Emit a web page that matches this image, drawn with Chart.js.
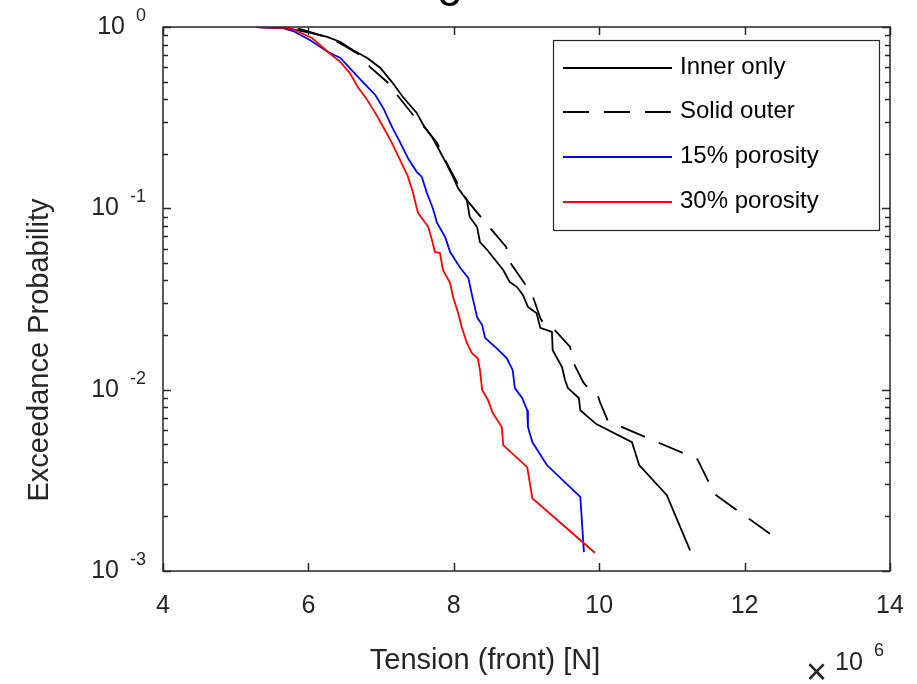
<!DOCTYPE html>
<html>
<head>
<meta charset="utf-8">
<script src="https://cdn.jsdelivr.net/npm/chart.js@4.4.0/dist/chart.umd.min.js"></script>
<style>
  html, body { margin: 0; padding: 0; background: #fff; }
  #wrap { width: 917px; height: 684px; }
</style>
</head>
<body>
<div id="wrap"><canvas id="chart" width="917" height="684"></canvas></div>
<script>
// Exceedance curves - tension in units of 1e6 N
const innerX = [5.29, 5.65, 5.98, 6.26, 6.44, 6.61, 6.81, 6.99, 7.15, 7.30, 7.49, 7.58, 7.71, 7.85, 7.99, 8.06, 8.18, 8.22, 8.32, 8.36, 8.46, 8.57, 8.68, 8.77, 8.87, 8.95, 9.02, 9.14, 9.19, 9.35, 9.36, 9.49, 9.53, 9.57, 9.72, 9.74, 9.96, 10.45, 10.55, 10.93, 11.25];
const innerP = [1.0, 0.995, 0.938, 0.881, 0.827, 0.747, 0.675, 0.594, 0.497, 0.411, 0.336, 0.288, 0.244, 0.192, 0.149, 0.129, 0.111, 0.0895, 0.0788, 0.0652, 0.0589, 0.0519, 0.0457, 0.0392, 0.0368, 0.0333, 0.0286, 0.0264, 0.0219, 0.0208, 0.0165, 0.0133, 0.0113, 0.0102, 0.0090, 0.0077, 0.00646, 0.00514, 0.00384, 0.00262, 0.00130];

const outerX = [5.29, 5.88, 6.30, 6.50, 6.71, 6.85, 7.10, 7.22, 7.44, 7.63, 7.77, 7.88, 8.04, 8.11, 8.18, 8.35, 8.50, 8.72, 8.77, 8.97, 9.09, 9.19, 9.24, 9.39, 9.60, 9.64, 9.78, 9.82, 9.97, 10.01, 10.12, 11.35, 11.59, 12.49];
const outerP = [1.0, 0.975, 0.870, 0.786, 0.701, 0.601, 0.491, 0.422, 0.327, 0.270, 0.229, 0.185, 0.140, 0.123, 0.111, 0.0918, 0.0778, 0.0612, 0.0506, 0.0387, 0.0324, 0.0248, 0.0230, 0.0213, 0.0172, 0.0142, 0.0110, 0.0105, 0.00958, 0.00855, 0.00671, 0.00414, 0.00265, 0.00146];

const por15X = [5.29, 5.65, 5.79, 6.02, 6.27, 6.44, 6.57, 6.75, 6.92, 7.03, 7.15, 7.26, 7.37, 7.49, 7.56, 7.63, 7.71, 7.77, 7.88, 7.95, 8.09, 8.20, 8.25, 8.32, 8.39, 8.43, 8.57, 8.73, 8.81, 8.84, 8.94, 9.01, 9.02, 9.08, 9.28, 9.74, 9.79];
const por15P = [1.0, 0.987, 0.950, 0.848, 0.728, 0.675, 0.594, 0.497, 0.422, 0.357, 0.281, 0.232, 0.189, 0.159, 0.149, 0.1214, 0.1004, 0.0830, 0.0695, 0.0574, 0.0469, 0.0413, 0.0333, 0.0251, 0.0227, 0.0193, 0.0172, 0.0149, 0.0128, 0.0102, 0.0090, 0.0077, 0.00622, 0.00514, 0.00384, 0.00256, 0.00127];

const por30X = [5.29, 5.75, 6.05, 6.27, 6.44, 6.57, 6.68, 6.81, 6.92, 7.03, 7.15, 7.26, 7.36, 7.43, 7.49, 7.51, 7.65, 7.70, 7.74, 7.81, 7.85, 7.95, 7.99, 8.06, 8.11, 8.18, 8.25, 8.33, 8.36, 8.39, 8.47, 8.53, 8.66, 8.68, 9.01, 9.08, 9.94];
const por30P = [1.0, 0.987, 0.870, 0.728, 0.641, 0.557, 0.467, 0.396, 0.336, 0.281, 0.229, 0.185, 0.153, 0.126, 0.1004, 0.0942, 0.0788, 0.0668, 0.0574, 0.0567, 0.0457, 0.0387, 0.0324, 0.0265, 0.0221, 0.0181, 0.0159, 0.0149, 0.0128, 0.00995, 0.00877, 0.00752, 0.00622, 0.00495, 0.00374, 0.00252, 0.00126];

const seriesNames = ['Inner only', 'Solid outer', '15% porosity', '30% porosity'];
const seriesColors = ['#000000', '#000000', '#0000ff', '#ff0000'];
const xTicks = [4, 6, 8, 10, 12, 14];
const yDecades = [-3, -2, -1, 0];

const axisColor = '#262626';
const fontFamily = '"Liberation Sans", Arial, Helvetica, sans-serif';
const dashPattern = [26, 15];

function toPoints(xs, ps) {
    return xs.map((x, i) => ({ x: x, y: ps[i] }));
}

function makeSeries(i, xs, ps, dashed) {
    return {
        label: seriesNames[i],
        data: toPoints(xs, ps),
        showLine: true,
        borderColor: seriesColors[i],
        borderWidth: 1.8,
        borderDash: dashed ? dashPattern : [],
        pointRadius: 0,
        fill: false,
        tension: 0,
        order: 4 - i
    };
}

// Draw box, ticks, labels and legend in MATLAB style
const axesPlugin = {
    id: 'matlabAxes',
    afterDraw(chart) {
        const ctx = chart.ctx;
        const { left, right, top, bottom } = chart.chartArea;
        const xs = chart.scales.x;
        const ys = chart.scales.y;

        const seg = (x1, y1, x2, y2) => {
            ctx.beginPath();
            ctx.moveTo(x1, y1);
            ctx.lineTo(x2, y2);
            ctx.stroke();
        };

        ctx.save();
        ctx.strokeStyle = axisColor;
        ctx.fillStyle = axisColor;
        ctx.lineWidth = 1.5;
        ctx.setLineDash([]);

        // x ticks, bottom and top
        xTicks.forEach(v => {
            const px = Math.round(xs.getPixelForValue(v)) + 0.5;
            seg(px, bottom, px, bottom - 8);
            seg(px, top, px, top + 8);
        });

        // y major and minor ticks, left and right
        yDecades.forEach(k => {
            for (let m = 1; m <= 9; m++) {
                if (k === 0 && m > 1) break;
                const py = Math.round(ys.getPixelForValue(m * Math.pow(10, k))) + 0.5;
                const len = m === 1 ? 8 : 5;
                seg(left, py, left + len, py);
                seg(right, py, right - len, py);
            }
        });

        // box
        ctx.strokeRect(left, top, right - left, bottom - top);

        // x tick labels
        ctx.font = '25px ' + fontFamily;
        ctx.textAlign = 'center';
        ctx.textBaseline = 'alphabetic';
        xTicks.forEach(v => {
            ctx.fillText(String(v), xs.getPixelForValue(v), bottom + 42);
        });

        // y tick labels 10^k
        yDecades.forEach(k => {
            const py = ys.getPixelForValue(Math.pow(10, k));
            const exp = String(k);
            ctx.font = '18px ' + fontFamily;
            const expW = ctx.measureText(exp).width;
            const expLeft = 146 - expW;
            ctx.textAlign = 'left';
            ctx.fillText(exp, expLeft, py - 6);
            ctx.font = '25px ' + fontFamily;
            ctx.textAlign = 'right';
            ctx.fillText('10', expLeft - 11, py + 7);
        });

        // axis labels
        ctx.font = '29px ' + fontFamily;
        ctx.textAlign = 'center';
        ctx.fillText('Tension (front) [N]', 485, 669);
        ctx.save();
        ctx.translate(48, 350);
        ctx.rotate(-Math.PI / 2);
        ctx.fillText('Exceedance Probability', 0, 0);
        ctx.restore();

        // x multiplier
        ctx.textAlign = 'left';
        ctx.font = '36px ' + fontFamily;
        ctx.fillText('\u00d7', 806, 684);
        ctx.font = '25px ' + fontFamily;
        ctx.fillText('10', 835, 670);
        ctx.font = '18px ' + fontFamily;
        ctx.fillText('6', 874, 656);

        // clipped title fragment at top
        ctx.fillStyle = '#000000';
        ctx.font = '46px ' + fontFamily;
        ctx.textAlign = 'center';
        ctx.fillText('g', 450, -4);

        // legend
        const lx = 553, ly = 40, lw = 326, lh = 190;
        ctx.fillStyle = '#ffffff';
        ctx.fillRect(lx, ly, lw, lh);
        ctx.strokeStyle = axisColor;
        ctx.lineWidth = 1.2;
        ctx.strokeRect(lx + 0.5, ly + 0.5, lw, lh);
        const rows = [68, 112, 157, 202];
        ctx.font = '24px ' + fontFamily;
        ctx.textBaseline = 'middle';
        ctx.textAlign = 'left';
        rows.forEach((ry, i) => {
            ctx.strokeStyle = seriesColors[i];
            ctx.lineWidth = 1.8;
            ctx.setLineDash(i === 1 ? dashPattern : []);
            seg(563, ry, 672, ry);
            ctx.setLineDash([]);
            ctx.fillStyle = '#000000';
            ctx.fillText(seriesNames[i], 680, ry - 1);
        });

        ctx.restore();
    }
};

new Chart(document.getElementById('chart'), {
    type: 'scatter',
    data: {
        datasets: [
            makeSeries(0, innerX, innerP, false),
            makeSeries(1, outerX, outerP, true),
            makeSeries(2, por15X, por15P, false),
            makeSeries(3, por30X, por30P, false)
        ]
    },
    options: {
        responsive: false,
        animation: false,
        layout: { padding: { left: 163, top: 27, right: 27, bottom: 113 } },
        plugins: {
            legend: { display: false },
            tooltip: { enabled: false }
        },
        scales: {
            x: { type: 'linear', min: 4, max: 14, display: false },
            y: { type: 'logarithmic', min: 0.001, max: 1, display: false }
        }
    },
    plugins: [axesPlugin]
});
</script>
</body>
</html>
